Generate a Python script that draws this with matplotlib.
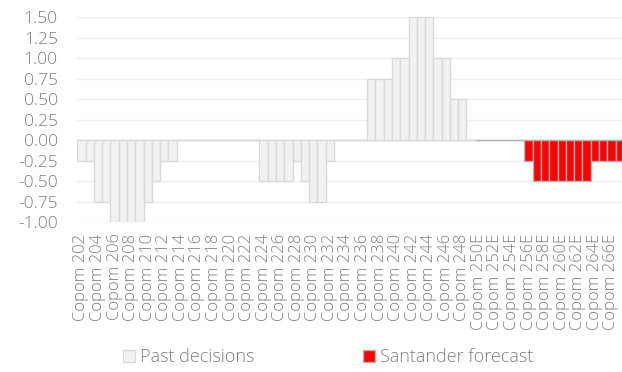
import matplotlib.pyplot as plt
import numpy as np

plt.rcParams['font.family'] = ['Open Sans', 'DejaVu Sans']
plt.rcParams['font.weight'] = 'light'

# Copom meetings: past decisions (p.p. change in Selic)
past_meetings = [f"Copom {n}" for n in range(202, 250)]
past_values = [
    -0.25, -0.25, -0.75, -0.75, -1.00, -1.00, -1.00, -1.00, -0.75, -0.50, -0.25, -0.25,
    0, 0, 0, 0, 0, 0, 0, 0, 0, 0,
    -0.50, -0.50, -0.50, -0.50, -0.25, -0.50, -0.75, -0.75, -0.25,
    0, 0, 0, 0,
    0.75, 0.75, 0.75, 1.00, 1.00, 1.50, 1.50, 1.50, 1.00, 1.00, 0.50, 0.50,
    0,
]

# Santander forecast
forecast_meetings = [f"Copom {n}E" for n in range(250, 268)]
forecast_values = [
    0, 0, 0, 0, 0, 0,
    -0.25, -0.50, -0.50, -0.50, -0.50, -0.50, -0.50, -0.50,
    -0.25, -0.25, -0.25, -0.25,
]

yticks = [-1.00, -0.75, -0.50, -0.25, 0.00, 0.25, 0.50, 0.75, 1.00, 1.25, 1.50]

text_color = "#7f7f7f"

fig = plt.figure(figsize=(6.22, 3.72), dpi=100)
ax = fig.add_axes([0.1243, 0.4024, 0.8757, 0.5511])

labels = past_meetings + forecast_meetings
x_past = np.arange(len(past_meetings))
x_fc = np.arange(len(past_meetings), len(labels))

ax.bar(x_past, past_values, width=1.0, color="#f2f2f2", edgecolor="#d9d9d9",
       linewidth=1.0, zorder=3, label="Past decisions")
ax.bar(x_fc, forecast_values, width=1.0, color="#ff0000", edgecolor="#b3b3b3",
       linewidth=1.0, zorder=3, label="Santander forecast")

ax.axhline(0, color="#d9d9d9", linewidth=1.0, zorder=2)
ax.set_ylim(-1.0, 1.5)
ax.set_yticks(yticks)
ax.set_yticklabels([f"{v:.2f}" for v in yticks])
ax.yaxis.grid(True, color="#eeeeee", linewidth=1.0, zorder=0)
ax.set_axisbelow(True)

ax.set_xlim(-0.5, 65.28)
ax.set_xticks(np.arange(0, len(labels), 2))
ax.set_xticklabels(labels[::2], rotation=90, va="top", ha="center")

for s in ax.spines.values():
    s.set_visible(False)
ax.tick_params(axis="y", length=0, pad=14, labelsize=12.5, labelcolor=text_color)
ax.tick_params(axis="x", length=0, pad=8, labelsize=12, labelcolor=text_color)

fig.legend(loc="center", bbox_to_anchor=(0.528, 0.04), ncol=2, frameon=False,
           fontsize=13, labelcolor=text_color, handlelength=0.65, handleheight=0.65,
           handletextpad=0.3, columnspacing=6.0)

fig.savefig("out.png", dpi=100)
